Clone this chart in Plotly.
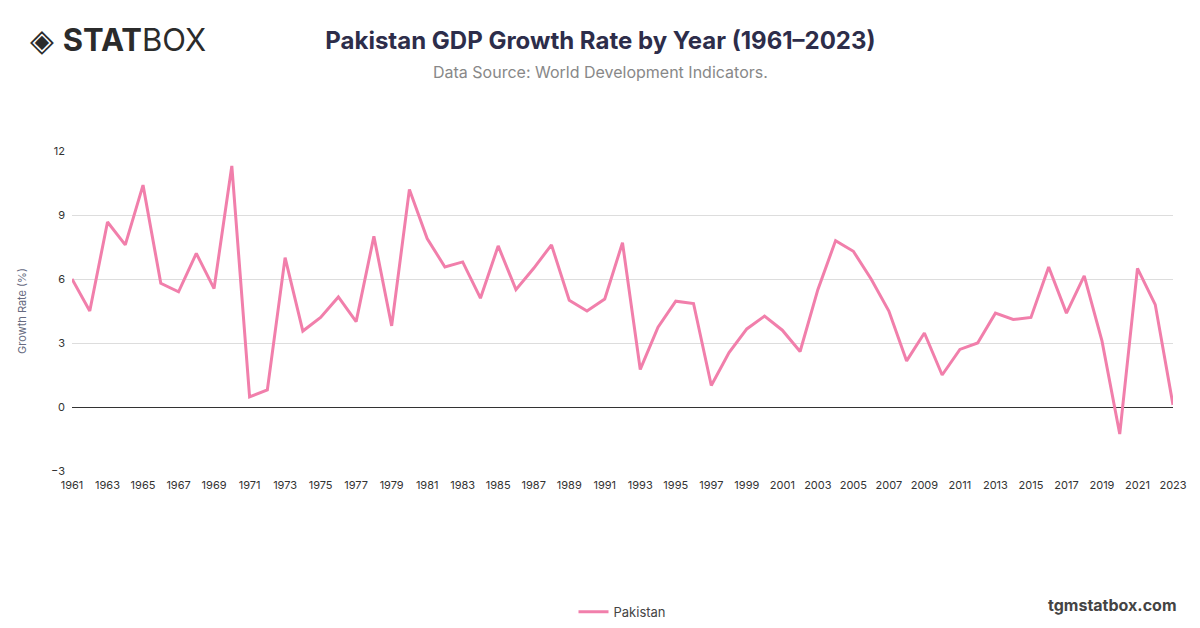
import plotly.graph_objects as go

years = list(range(1961, 2024))
growth = [6.0, 4.5, 8.67, 7.6, 10.4, 5.8, 5.4, 7.2, 5.55, 11.3,
          0.47, 0.8, 7.0, 3.56, 4.2, 5.16, 4.0, 8.0, 3.8, 10.2,
          7.9, 6.56, 6.8, 5.1, 7.55, 5.5, 6.5, 7.6, 5.0, 4.5,
          5.06, 7.7, 1.76, 3.74, 4.96, 4.85, 1.01, 2.55, 3.66, 4.26,
          3.6, 2.6, 5.5, 7.8, 7.3, 6.0, 4.5, 2.16, 3.47, 1.5,
          2.7, 3.0, 4.4, 4.1, 4.2, 6.56, 4.4, 6.15, 3.1, -1.27,
          6.5, 4.8, 0.1]
tick_years = list(range(1961, 2024, 2))

fig = go.Figure()
fig.add_trace(go.Scatter(x=years, y=growth, mode='lines', name='Pakistan',
                         line=dict(color='#f17fab', width=3)))

fig.update_layout(
    width=1192, height=620, autosize=False,
    paper_bgcolor='white', plot_bgcolor='white',
    margin=dict(l=64, r=27, t=143, b=157, autoexpand=False),
    font=dict(family='Inter, Noto Sans, sans-serif', color='#333'),
    title=dict(text='<b>Pakistan GDP Growth Rate by Year (1961–2023)</b>',
               x=0.497, xanchor='center', y=0.948, yanchor='middle', yref='container',
               font=dict(size=24, color='#2d2d4a')),
    showlegend=True,
    legend=dict(orientation='h', x=0.5, xanchor='center', y=-0.44, yanchor='middle',
                font=dict(size=13, color='#444')),
)
fig.update_xaxes(range=[1961, 2023], tickvals=tick_years, showgrid=False, automargin=False,
                 showline=False, ticks='', ticklabelstandoff=6,
                 tickfont=dict(size=11, color='#333'))
fig.update_yaxes(range=[-3, 12], tickvals=[-3, 0, 3, 6, 9, 12], showgrid=True, automargin=False,
                 gridcolor='#dddddd', zeroline=True, zerolinecolor='#333',
                 zerolinewidth=1, ticks='', ticklabelstandoff=6,
                 tickfont=dict(size=11, color='#333'),
                 title=dict(text='Growth Rate (%)', font=dict(size=11, color='#666a80'),
                            standoff=22))

fig.add_annotation(text='Data Source: World Development Indicators.', xref='paper', yref='paper',
                   x=0.48, y=1.247, showarrow=False, font=dict(size=16, color='#888'),
                   xanchor='center', yanchor='middle')
fig.add_annotation(text='◈ <b>STAT</b>BOX', xref='paper', yref='paper',
                   x=-0.04, y=1.347, xanchor='left', yanchor='middle', showarrow=False,
                   font=dict(size=31, color='#2b2b2b'))
fig.add_annotation(text='<b>tgmstatbox.com</b>', xref='paper', yref='paper',
                   x=1.005, y=-0.42, xanchor='right', yanchor='middle', showarrow=False,
                   font=dict(size=16, color='#444'))

fig.write_html("out.html")
